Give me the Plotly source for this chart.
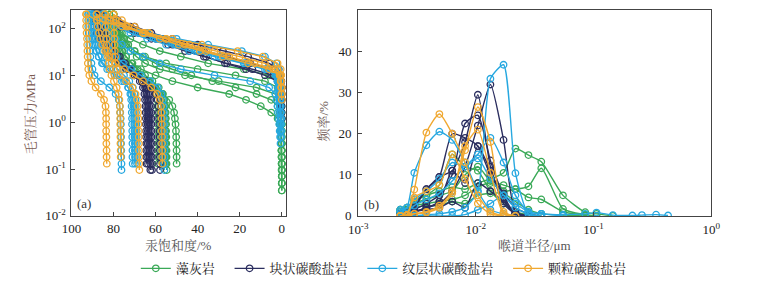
import plotly.graph_objects as go

# ---------------- data ----------------
# mercury injection pressure steps (MPa), from high to low
PRESSURE_MPA = [200, 150, 110, 80, 60, 45, 33, 25, 18, 13.5, 10, 7.5, 5.5, 4, 3,
                2.2, 1.6, 1.2, 0.9, 0.65, 0.48, 0.35, 0.25, 0.18, 0.13, 0.095,
                0.07, 0.05, 0.035]

# pore throat radius classes (um)
RADIUS_UM = [0.00228, 0.0026, 0.003, 0.0038, 0.0049, 0.0063, 0.0081, 0.0104,
             0.0133, 0.0172, 0.0217, 0.028, 0.036, 0.055, 0.085, 0.106, 0.146,
             0.214, 0.258, 0.34, 0.43]

LITHOLOGY = ["藻灰岩", "块状碳酸盐岩", "纹层状碳酸盐岩", "颗粒碳酸盐岩"]
COLORS = ["#3aa957", "#2b2e5f", "#27a8e0", "#f0a830"]

# mercury saturation (%) along injection, listed from 200 MPa downward
GREEN_INJ = [
    [82, 81, 80, 79, 78, 77, 76, 74, 71, 67, 60, 52, 40, 25, 17, 10, 5, 2, 1, 0.5, 0.3, 0.2, 0.2, 0.1, 0.1, 0.1, 0, 0, 0],
    [80, 79, 78, 77, 75, 73, 70, 66, 60, 52, 43, 33, 22, 12, 5, 2, 1, 0.5, 0.3, 0.2, 0.2, 0.1, 0.1, 0.1, 0, 0],
    [84, 82, 80, 78, 76, 74, 72, 69, 65, 58, 46, 30, 12, 3, 1, 0.5, 0.3, 0.2, 0.1, 0.1, 0.1, 0, 0, 0, 0, 0, 0, 0],
    [80, 79, 78, 77, 75, 73, 70, 65, 55, 40, 22, 8, 2, 1, 0.5, 0.3, 0.2, 0.1, 0.1, 0, 0, 0, 0, 0, 0, 0, 0, 0, 0],
    [86, 83, 80, 76, 72, 66, 58, 48, 35, 18, 6, 1.5, 0.5, 0.3, 0.2, 0.1, 0.1, 0, 0],
]
NAVY_INJ = [
    [89, 82, 75, 68, 60, 52, 44, 36, 27, 17, 8, 2, 0.5, 0.3, 0.2, 0.1, 0.1, 0],
    [88, 80, 74, 66, 57, 48, 38, 27, 16, 6, 1, 0.5, 0.3, 0],
    [87, 78, 70, 62, 52, 40, 28, 16, 6, 1.5, 0.5, 0.2, 0],
    [90, 84, 77, 70, 62, 54, 46, 37, 26, 14, 4, 1, 0.5, 0.2, 0],
    [86, 79, 72, 64, 56, 47, 37, 26, 15, 6, 1.5, 0.3, 0],
]
BLUE_INJ = [
    [92, 86, 74, 64, 50, 35, 19, 8, 2.5, 1.5, 1.2, 1.0, 0.9, 0.8, 0.7, 0.6, 0.5, 0.4, 0.3, 0.2],
    [90, 85, 79, 72, 64, 55, 44, 32, 18, 7, 2, 1.5, 1.2, 1.0, 0.8, 0.6, 0.5, 0.4],
    [88, 86, 84, 82, 79, 76, 72, 66, 58, 48, 32, 15, 6, 3, 2.5, 2, 1.8, 1.5, 1.2, 1.0, 0.8, 0.6],
    [85, 80, 74, 67, 59, 50, 40, 29, 17, 7, 2.5, 2, 1.8, 1.5, 1.3, 1.0, 0.8, 0.6, 0.5, 0.4, 0.3],
    [91, 84, 76, 68, 60, 51, 41, 30, 18, 8, 3, 2, 1.5, 1.2, 1.0, 0.8, 0.6, 0.5],
]
ORANGE_INJ = [
    [93, 88, 76, 66, 52, 38, 21, 9, 2, 0.5, 0.3],
    [80, 76, 70, 63, 55, 46, 36, 25, 13, 4, 1, 0.5, 0.3, 0.2, 0],
    [88, 82, 74, 65, 55, 44, 32, 20, 8, 2, 0.5, 0.3, 0],
    [84, 79, 73, 66, 58, 49, 39, 28, 16, 6, 1, 0.5, 0.2, 0],
]

# mercury saturation (%) along withdrawal, listed from 200 MPa downward
GREEN_WD = [
    [82, 81.8, 81.5, 81, 80.5, 79.8, 79, 78, 76.5, 74, 70.5, 66, 61, 56.5, 53.5, 52, 51.2, 50.8, 50.5, 50.3, 50.2, 50.1, 50, 50, 50],
    [80, 79.8, 79.5, 79, 78.5, 77.8, 77, 76, 74.5, 72, 68.5, 64.5, 60.5, 57.5, 56, 55.4, 55.2, 55.1, 55, 55, 54.9, 54.9, 54.8, 54.8, 54.8, 54.7],
    [84, 83.7, 83.3, 82.7, 82, 81, 79.8, 78, 75.5, 72, 68, 63.5, 60, 58.2, 57.5, 57.2, 57.1, 57, 57, 56.9, 56.9, 56.8, 56.8, 56.8, 56.7],
    [80, 79.6, 79.2, 78.6, 78, 77, 75.8, 74, 71.5, 68.5, 65, 61.5, 58.5, 56.8, 56, 55.7, 55.6, 55.5, 55.5, 55.4, 55.4, 55.4, 55.3, 55.3, 55.3],
    [86, 85.6, 85, 84, 82.8, 81.3, 79.3, 77, 74, 70.5, 66.5, 63, 60.8, 59.7, 59.3, 59.1, 59, 59, 58.9, 58.9, 58.9, 58.8, 58.8, 58.8, 58.8],
]
NAVY_WD = [
    [89, 88.6, 88, 87.2, 86, 84.5, 82.5, 80, 77, 73, 68.5, 64.5, 61.5, 59.8, 59, 58.6, 58.4, 58.3, 58.2, 58.1, 58.1, 58, 58, 58, 57.9, 57.9],
    [88, 87.6, 87, 86.2, 85, 83.5, 81.5, 79, 76, 72.5, 69, 66, 64.2, 63.5, 63.2, 63, 62.9, 62.8, 62.8, 62.7, 62.7, 62.6, 62.6, 62.6, 62.5, 62.5],
    [87, 86.6, 86, 85.2, 84, 82.5, 80.5, 78, 75.5, 72.5, 70, 67.5, 66, 65.3, 65, 64.8, 64.7, 64.6, 64.6, 64.5, 64.5, 64.4, 64.4, 64.4, 64.3],
    [90, 89.5, 89, 88, 87, 85.5, 83.5, 81, 78, 74, 70, 66.5, 64, 62.8, 62.4, 62.2, 62.1, 62, 62, 61.9, 61.9, 61.8, 61.8, 61.8, 61.7, 61.7],
    [86, 85.6, 85, 84.2, 83, 81.5, 79.5, 77, 74.5, 71.5, 68.5, 66.3, 65, 64.4, 64.1, 64, 63.9, 63.8, 63.8, 63.7, 63.7, 63.7, 63.6, 63.6, 63.6],
]
BLUE_WD = [
    [92, 92, 92, 91.8, 91.6, 91.5, 91.3, 91, 90.5, 90, 89, 86, 82, 79, 77.5, 77, 76.8, 76.6, 76.5, 76.5, 76.4, 76.4, 76.3, 76.3, 76.2, 76.2],
    [90, 89.8, 89.6, 89.4, 89, 88.5, 88, 87, 85.5, 83, 79.5, 76, 73, 71.5, 70.8, 70.5, 70.3, 70.2, 70.1, 70, 70, 69.9, 69.9, 69.8, 69.8],
    [88, 87.8, 87.5, 87, 86.5, 86, 85, 83.5, 81, 78, 75, 72.5, 70.8, 70, 69.6, 69.4, 69.3, 69.2, 69.1, 69, 69, 68.9, 68.9, 68.8, 68.8],
    [85, 84.7, 84.3, 83.7, 83, 82, 80.5, 78.5, 75.5, 71.5, 67, 62.5, 59, 57.2, 56.5, 56.2, 56.1, 56, 56, 55.9, 55.9, 55.9, 55.8, 55.8, 55.8, 55.8],
    [91, 90.8, 90.5, 90.2, 89.8, 89.2, 88.3, 87, 85, 82, 78.5, 75, 73, 72, 71.6, 71.4, 71.3, 71.2, 71.2, 71.1, 71.1, 71, 71, 71, 70.9],
]
ORANGE_WD = [
    [93, 93, 93, 92.8, 92.6, 92.5, 92.4, 92.3, 92.2, 92, 91.5, 90.5, 88.5, 86, 84.5, 83.8, 83.6, 83.5, 83.5, 83.5, 83.4, 83.4, 83.3, 83.3, 83.2],
    [80, 80, 79.8, 79.7, 79.6, 79.5, 79.4, 79.2, 79, 78.5, 77, 74, 71, 69.5, 68.8, 68.5, 68.3, 68.2, 68.1, 68, 68, 67.9, 67.9, 67.8, 67.8, 67.7],
    [88, 87.8, 87.5, 87, 86.3, 85.4, 84, 82, 79, 75, 70.5, 66, 62, 59.3, 58, 57.4, 57.2, 57.1, 57, 57, 56.9, 56.9, 56.8, 56.8, 56.8],
    [84, 84, 83.8, 83.6, 83.4, 83.2, 83, 82.7, 82.3, 81.8, 81, 79.8, 78.5, 77.6, 77.2, 77, 76.9, 76.8, 76.8, 76.7, 76.7, 76.7, 76.6, 76.6],
]

# pore throat radius frequency (%) per RADIUS_UM class
GREEN_PSD = [
    [1.5, 2, 3.5, 5, 6, 7, 6.5, 8, 9, 10.5, 16.4, 14.8, 13.2, 5, 0.9, 0.5, 0],
    [1, 1.5, 2.5, 3, 3.5, 4, 5, 7, 8, 6, 6.5, 7.2, 11.6, 1.7, 0.3, 0],
    [1.5, 2, 4, 5, 7.5, 15, 12, 11, 6, 3, 1, 0.3, 0],
    [0.5, 1, 3, 4, 5, 6, 10, 12, 8.5, 7.5, 6.5, 4.5, 4, 1, 0.2, 0],
    [1, 1.5, 2, 2.5, 2.5, 3.5, 3, 5, 5.5, 5.5, 3.5, 1.5, 0.5, 0.2, 0],
]
NAVY_PSD = [
    [0, 0.5, 1, 2, 3, 6, 12, 22, 32, 18.5, 1, 0],
    [0.5, 1, 2, 6.5, 9.5, 11, 18, 29.5, 12, 3, 0.5, 0],
    [0, 0.5, 1.5, 3, 5, 10, 22.5, 24.5, 13.5, 5, 0.5, 0],
    [0.5, 1, 2.5, 6.5, 9.5, 20, 19, 17, 10, 5.5, 2, 0.5, 0],
    [0, 0.5, 1, 2, 3.5, 11, 8, 17, 11, 4, 0.5, 0],
    [0, 0.3, 1, 1.5, 2, 3.5, 2, 8, 6, 3.5, 0.5, 0],
]
BLUE_PSD = [
    [0, 0, 0, 0.3, 0.5, 1, 2, 6, 33.4, 36.8, 10.4, 0.5, 0],
    [1, 2, 10.5, 17.2, 20.5, 18.5, 13, 6, 1.5, 0.5, 0],
    [0.5, 1, 2.5, 4, 5.5, 8.5, 12, 15, 19, 13, 5, 1, 0.5, 0],
    [0, 0, 0, 0, 0, 0, 0.3, 1.5, 3, 5, 3, 1, 0.5, 0.3, 0.5, 0.8, 0.2, 0.1, 0.2, 0.3, 0.1],
    [1.5, 2, 4, 6, 9, 13, 12, 14, 9, 5, 2, 0.5, 0],
]
ORANGE_PSD = [
    [0, 0.2, 6.4, 20.3, 24.8, 20, 13, 5, 1, 0],
    [0, 0, 0.5, 1, 2.5, 6, 16, 26.5, 18, 1, 0],
    [0, 0.2, 0.5, 0.8, 2, 5.5, 17, 21, 10.5, 0.5, 0],
    [0, 0.3, 4.5, 6, 7.5, 15, 9, 3, 0.5, 0],
]

SAT_TICKS = [100, 80, 60, 40, 20, 0]
P_TICKS = [0.01, 0.1, 1, 10, 100]
P_TICKTEXT = ["10<sup>-2</sup>", "10<sup>-1</sup>", "10<sup>0</sup>", "10<sup>1</sup>", "10<sup>2</sup>"]
R_TICKS = [0.001, 0.01, 0.1, 1]
R_TICKTEXT = ["10<sup>-3</sup>", "10<sup>-2</sup>", "10<sup>-1</sup>", "10<sup>0</sup>"]
F_TICKS = [0, 10, 20, 30, 40]

# ---------------- figure ----------------
W, H = 767, 291
FONT = "Liberation Serif, Noto Serif CJK SC, Noto Sans CJK SC, serif"
GAP = "\u00a0\u00a0\u00a0"   # extra spacing between legend entries

fig = go.Figure()

INJ = [GREEN_INJ, NAVY_INJ, BLUE_INJ, ORANGE_INJ]
WD = [GREEN_WD, NAVY_WD, BLUE_WD, ORANGE_WD]
PSD = [GREEN_PSD, NAVY_PSD, BLUE_PSD, ORANGE_PSD]


def marker(c):
    return dict(symbol="circle-open", size=6.5, color=c, line=dict(width=1.3, color=c))


for name, color, inj_set, wd_set in zip(LITHOLOGY, COLORS, INJ, WD):
    for k, (inj, wd) in enumerate(zip(inj_set, wd_set)):
        x = list(reversed(inj)) + list(wd)
        y = list(reversed(PRESSURE_MPA[:len(inj)])) + PRESSURE_MPA[:len(wd)]
        fig.add_trace(go.Scatter(
            x=x, y=y, xaxis="x", yaxis="y", mode="lines+markers",
            name=name + GAP, legendgroup=name, showlegend=(k == 0),
            line=dict(color=color, width=1.4), marker=marker(color)))

for name, color, psd_set in zip(LITHOLOGY, COLORS, PSD):
    for vals in psd_set:
        fig.add_trace(go.Scatter(
            x=RADIUS_UM[:len(vals)], y=vals, xaxis="x2", yaxis="y2",
            mode="lines+markers", name=name, legendgroup=name, showlegend=False,
            line=dict(color=color, width=1.4, shape="spline", smoothing=0.6),
            marker=marker(color)))


def px(x):
    return x / W


def py(y):
    return 1 - y / H


ydom = [py(222), py(10)]
axis_common = dict(showgrid=False, zeroline=False, showline=True, mirror=True,
                   linecolor="#444", linewidth=1, ticks="inside", ticklen=4,
                   tickcolor="#444", tickfont=dict(size=13, color="#222", family=FONT))

fig.update_layout(
    width=W, height=H, margin=dict(l=0, r=0, t=0, b=0),
    paper_bgcolor="white", plot_bgcolor="white", hovermode=False,
    font=dict(family=FONT, size=13, color="#222"),
    xaxis=dict(domain=[px(63), px(283)], range=[100, -2], tickvals=SAT_TICKS,
               anchor="y", ticklabelstandoff=1, **axis_common),
    yaxis=dict(domain=ydom, type="log", range=[-2, 2.4], tickvals=P_TICKS,
               ticktext=P_TICKTEXT, anchor="x", ticklabelstandoff=2, **axis_common),
    xaxis2=dict(domain=[px(357), px(719)], type="log", range=[-3, 0],
                tickvals=R_TICKS, ticktext=R_TICKTEXT, anchor="y2",
                ticklabelstandoff=2, **axis_common),
    yaxis2=dict(domain=ydom, range=[0, 50.2], tickvals=F_TICKS, anchor="x2",
                ticklabelstandoff=3, **axis_common),
    legend=dict(orientation="h", x=px(129), xanchor="left", y=py(276), yanchor="middle",
                font=dict(size=13, family=FONT, color="#222"), itemwidth=30,
                bgcolor="rgba(0,0,0,0)", tracegroupgap=0),
    showlegend=True,
)

ann = [
    dict(text="汞饱和度/%", x=px(173), y=py(252), color="#555", angle=0),
    dict(text="喉道半径/μm", x=px(538), y=py(252), color="#555", angle=0),
    dict(text="毛管压力/MPa", x=px(21), y=py(117), color="#7a5a52", angle=-90),
    dict(text="频率/%", x=px(322), y=py(125), color="#6e5a55", angle=-90),
    dict(text="(a)", x=px(76), y=py(209), color="#333", angle=0),
    dict(text="(b)", x=px(371), y=py(210), color="#333", angle=0),
]
for a in ann:
    fig.add_annotation(text=a["text"], x=a["x"], y=a["y"], xref="paper", yref="paper",
                       showarrow=False, textangle=a["angle"], xanchor="center",
                       yanchor="middle", font=dict(size=13, color=a["color"], family=FONT))

fig.write_html("out.html", config={"displayModeBar": False, "staticPlot": True},
               post_script="document.body.style.margin='0px';document.body.style.overflow='hidden';")
